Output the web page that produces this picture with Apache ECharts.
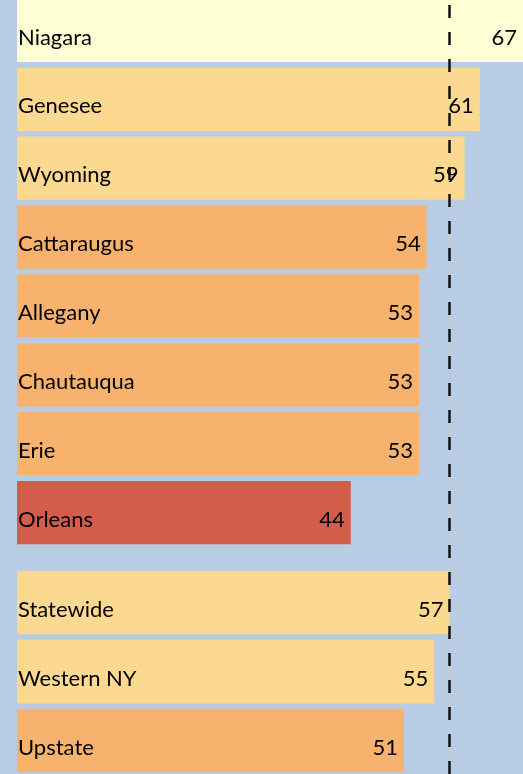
<!DOCTYPE html>
<html>
<head>
<meta charset="utf-8">
<script src="https://cdn.jsdelivr.net/npm/echarts@6/dist/echarts.min.js"></script>
<style>
  html, body { margin: 0; padding: 0; background: #b8cce4; }
  #chart { width: 523px; height: 774px; }
</style>
</head>
<body>
<div id="chart"></div>
<script>
const counties = ['Niagara', 'Genesee', 'Wyoming', 'Cattaraugus', 'Allegany', 'Chautauqua', 'Erie', 'Orleans']
const countyValues = [67, 61, 59, 54, 53, 53, 53, 44]
const regions = ['Statewide', 'Western NY', 'Upstate']
const regionValues = [57, 55, 51]
const statewideValue = 57

const xMax = 66.7
const fontFamily = 'Lato'
const fontSize = 22

// colour band by value
const barColor = (v) => {
    if (v >= 62) return '#ffffd6'
    if (v >= 55) return '#fbd990'
    if (v >= 45) return '#f7b36d'
    return '#d35d4a'
}

const barData = (values) => values.map((v) => ({ value: v, itemStyle: { color: barColor(v) } }))

const valueAxis = (gridIndex) => ({
    type: 'value',
    gridIndex: gridIndex,
    min: 0,
    max: xMax,
    show: false
})

const catAxis = (gridIndex, names) => ({
    type: 'category',
    gridIndex: gridIndex,
    data: names,
    inverse: true,
    show: false
})

const textStyle = {
    color: '#000',
    fontFamily: fontFamily,
    fontSize: fontSize
}

const barSeries = (index, values) => ({
    type: 'bar',
    xAxisIndex: index,
    yAxisIndex: index,
    data: barData(values),
    barCategoryGap: '8%',
    clip: true,
    silent: true,
    label: Object.assign({
        show: true,
        position: 'insideRight',
        distance: 6,
        offset: [0, 7]
    }, textStyle)
})

// transparent twin bars that only carry the name on the left
const nameSeries = (index, values) => ({
    type: 'bar',
    xAxisIndex: index,
    yAxisIndex: index,
    data: values,
    barGap: '-100%',
    barCategoryGap: '8%',
    clip: true,
    silent: true,
    itemStyle: { color: 'transparent' },
    label: Object.assign({
        show: true,
        position: 'insideLeft',
        distance: 1,
        offset: [0, 7],
        formatter: '{b}'
    }, textStyle)
})

const chart = echarts.init(document.getElementById('chart'))
const option = {
    backgroundColor: '#b8cce4',
    animation: false,
    grid: [
        { left: 17, right: 0, top: -4, height: 551, outerBoundsMode: 'none' },
        { left: 17, right: 0, top: 568, height: 207, outerBoundsMode: 'none' },
        { left: 17, right: 0, top: 0, bottom: 0, outerBoundsMode: 'none' }
    ],
    xAxis: [valueAxis(0), valueAxis(1), valueAxis(2)],
    yAxis: [
        catAxis(0, counties),
        catAxis(1, regions),
        { type: 'value', gridIndex: 2, min: 0, max: 1, show: false }
    ],
    series: [
        barSeries(0, countyValues),
        nameSeries(0, countyValues),
        barSeries(1, regionValues),
        nameSeries(1, regionValues),
        {
            type: 'line',
            xAxisIndex: 2,
            yAxisIndex: 2,
            data: [],
            z: 10,
            markLine: {
                silent: true,
                symbol: 'none',
                label: { show: false },
                lineStyle: { color: '#111', width: 2.5, type: [13, 14] },
                data: [{ xAxis: statewideValue }]
            }
        }
    ]
}
chart.setOption(option)
</script>
</body>
</html>
